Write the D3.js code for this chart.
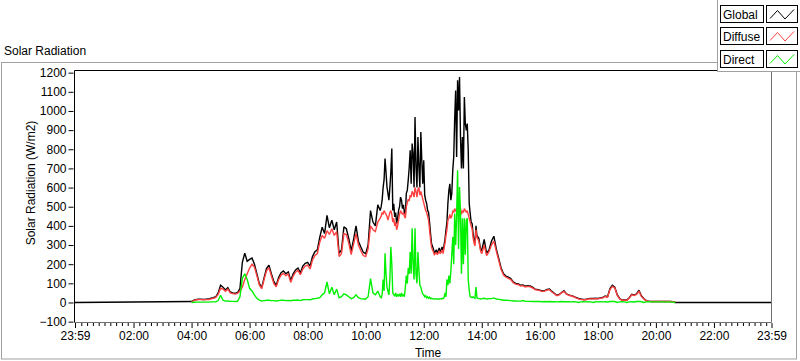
<!DOCTYPE html>
<html><head><meta charset="utf-8">
<script src="https://cdn.jsdelivr.net/npm/d3@7"></script>
<style>
html,body{margin:0;padding:0;background:#fff;overflow:hidden;}
svg text{font-family:"Liberation Sans",Arial,sans-serif;font-size:12px;fill:#000;}
</style></head><body>
<svg id="c" width="800" height="361"></svg>
<script>
// ---------- DATA ----------
const chartTitle = "Solar Radiation";
const yTitle = "Solar Radiation (W/m2)";
const xTitle = "Time";
const seriesNames = ["Global", "Diffuse", "Direct"];
const seriesColors = ["#000000", "#ff4040", "#00f000"];

// sample times: [start, end, step in minutes]
const timeSegments = [["04:00", "10:25", 5], ["10:30", "13:58", 2], ["14:00", "20:40", 5]];
const nightValue = 0;

const globalValues = [
  // 04:00-10:25 (5 min)
  5,12,16,17,17,16,17,18,22,25,30,50,
  90,80,65,78,55,50,48,52,72,210,258,215,
  225,232,200,150,100,78,130,178,195,150,110,90,
  130,155,165,150,160,115,150,170,180,155,190,205,
  210,190,240,265,275,340,393,360,455,390,430,380,
  420,257,275,395,385,335,270,330,400,320,290,262,
  255,300,480,420,400,510,
  // 10:30-13:58 (2 min)
  480,500,534,600,640,752,680,603,570,534,600,680,804,481,515,
  447,470,412,440,481,500,550,534,490,510,470,460,570,585,640,706,795,620,830,777,600,968,707,600,864,707,600,890,742,620,
  742,560,534,517,481,470,420,361,309,293,280,257,265,275,260,270,285,265,275,290,265,300,330,380,420,520,586,620,534,568,
  690,760,960,1107,760,1160,1003,1177,864,700,864,700,1073,934,899,934,794,518,465,420,413,360,325,310,400,350,342,335,300,273,
  // 14:00-20:40 (5 min)
  273,329,257,275,320,346,280,230,180,150,138,132,
  125,108,100,98,90,92,85,88,86,80,70,68,
  65,60,62,68,70,58,48,38,42,52,61,45,
  40,36,32,26,21,18,16,16,20,21,21,22,
  21,24,26,34,30,73,90,80,41,21,13,13,
  13,25,43,40,45,64,35,21,10,7,5,5,
  5,5,5,5,5,5,5,4,0
];

const diffuseValues = [
  3,10,14,15,15,14,15,16,19,22,27,42,
  75,70,58,70,50,46,44,48,60,80,120,150,
  180,200,185,140,92,72,120,165,182,140,100,82,
  120,142,152,140,148,105,138,158,168,145,175,190,
  195,175,222,245,255,315,350,335,375,355,385,350,
  370,240,255,360,355,310,250,305,360,300,270,245,
  240,280,400,380,370,420,
  440,450,470,460,480,470,460,450,430,450,470,480,460,420,440,
  400,420,380,400,430,460,480,470,460,470,450,440,500,520,540,530,560,550,580,570,550,600,580,550,590,600,560,580,560,540,
  520,500,480,470,450,430,380,330,290,275,265,250,255,262,250,258,270,255,262,275,255,285,310,350,380,430,440,460,440,450,
  480,470,490,480,470,500,480,470,490,460,480,470,490,480,470,480,460,440,420,400,385,340,310,295,380,340,330,320,290,265,
  255,300,245,265,300,320,268,220,172,143,132,126,
  120,103,96,94,86,88,81,84,82,76,67,65,
  62,57,59,65,67,55,46,36,40,50,58,43,
  38,34,30,24,19,16,14,14,18,19,19,20,
  19,22,24,31,28,68,84,76,38,19,12,12,
  12,23,40,37,42,58,32,19,9,6,5,5,
  5,5,5,5,5,5,5,4,0
];

const directValues = [
  0,1,2,2,2,2,2,2,3,3,3,10,
  38,12,7,8,6,6,5,6,30,125,150,120,
  74,60,40,22,12,8,10,12,12,10,10,8,
  10,12,12,10,11,9,12,12,13,10,14,15,
  15,14,18,20,22,25,40,50,107,45,80,40,
  70,25,30,45,40,30,20,25,40,25,20,18,
  18,30,125,50,40,60,
  30,25,40,120,60,257,150,80,60,40,120,290,200,50,40,
  35,50,30,40,35,45,30,50,35,40,30,80,140,100,180,150,264,150,387,200,120,387,150,100,264,170,90,80,60,45,
  40,30,35,25,30,22,28,20,22,20,18,20,18,20,17,19,18,20,18,22,20,25,50,30,120,90,140,100,160,250,
  342,200,465,300,450,690,280,603,460,150,440,200,440,250,430,440,120,64,30,28,25,30,25,22,81,25,22,20,20,18,
  20,22,18,20,20,24,18,16,14,12,12,11,
  10,8,8,7,7,10,6,6,6,5,5,5,
  5,4,5,4,5,4,4,3,4,5,4,4,
  4,3,4,3,0,3,4,3,4,3,0,4,
  3,4,3,4,3,5,6,5,0,3,4,3,
  0,3,4,3,5,6,4,0,3,4,3,3,
  3,3,3,3,2,3,3,2,0
];

const yTicks = [-100,0,100,200,300,400,500,600,700,800,900,1000,1100,1200];
const xTickMinutes = [-1,120,240,360,480,600,720,840,960,1080,1200,1320,1439];
const xTickLabels = ["23:59","02:00","04:00","06:00","08:00","10:00","12:00","14:00","16:00","18:00","20:00","22:00","23:59"];
const xMinorStep = 12;

// ---------- BUILD ----------
function parseHM(s){ const p = s.split(":").map(Number); return p[0]*60 + p[1]; }
const times = [];
timeSegments.forEach(([a,b,st]) => { for (let t = parseHM(a); t <= parseHM(b); t += st) times.push(t); });

const svg = d3.select("#c");
const plot = {l: 74.5, r: 771.5, t: 70.5, b: 322.5};
const x = d3.scaleLinear().domain([xTickMinutes[0], xTickMinutes[xTickMinutes.length-1]]).range([75, 771.5]);
const y = d3.scaleLinear().domain([-100, 1200]).range([321.65, 72.65]);

// panel
svg.append("rect").attr("x",1.5).attr("y",62.5).attr("width",795).attr("height",296.5)
  .attr("fill","#fff").attr("stroke","#a0a0a0");
svg.append("text").attr("x",4).attr("y",55).text(chartTitle);

// plot background
svg.append("rect").attr("x",plot.l).attr("y",plot.t).attr("width",plot.r-plot.l).attr("height",plot.b-plot.t).attr("fill","#fff");

// clip
svg.append("defs").append("clipPath").attr("id","clip").append("rect")
  .attr("x",plot.l+0.5).attr("y",plot.t+0.5).attr("width",plot.r-plot.l-1).attr("height",plot.b-plot.t-1);

const line = d3.line().x(d => x(d.t)).y(d => y(d.v));
const seriesValues = [globalValues, diffuseValues, directValues];
const g = svg.append("g").attr("clip-path","url(#clip)");
seriesValues.forEach((vals, i) => {
  let pts = times.map((t, k) => ({t: t, v: vals[k]}));
  if (i === 0) pts = [{t: x.domain()[0], v: nightValue}, ...pts, {t: x.domain()[1], v: nightValue}];
  g.append("path").datum(pts).attr("d", line).attr("fill","none")
    .attr("stroke", seriesColors[i]).attr("stroke-width",1.4).attr("stroke-linejoin","miter").attr("stroke-miterlimit",2);
});

// frame
svg.append("line").attr("x1",plot.l).attr("x2",plot.r).attr("y1",plot.t).attr("y2",plot.t).attr("stroke","#000");
svg.append("line").attr("x1",plot.l).attr("x2",plot.l).attr("y1",plot.t).attr("y2",plot.b).attr("stroke","#000");
svg.append("line").attr("x1",plot.l).attr("x2",plot.r).attr("y1",plot.b).attr("y2",plot.b).attr("stroke","#707070");
svg.append("line").attr("x1",plot.r).attr("x2",plot.r).attr("y1",plot.t).attr("y2",plot.b).attr("stroke","#707070");

// y axis
const ya = svg.append("g").attr("transform","translate(73.5,0)")
  .call(d3.axisLeft(y).tickValues(yTicks).tickSize(5).tickPadding(2).tickFormat(d3.format("d")));
ya.select(".domain").remove();
ya.selectAll("text").style("font-family","Liberation Sans, Arial, sans-serif").style("font-size","12px").attr("fill","#000");
ya.selectAll("line").attr("stroke","#000");

// x axis major
const xa = svg.append("g").attr("transform","translate(0,323)")
  .call(d3.axisBottom(x).tickValues(xTickMinutes).tickSize(5).tickPadding(3).tickFormat((d,i) => xTickLabels[i]));
xa.select(".domain").remove();
xa.selectAll("text").style("font-family","Liberation Sans, Arial, sans-serif").style("font-size","12px").attr("fill","#000");
xa.selectAll("line").attr("stroke","#000");
// x axis minor
const minor = d3.range(xMinorStep, 1440, xMinorStep).filter(m => m % 120 !== 0);
const xm = svg.append("g").attr("transform","translate(0,323)")
  .call(d3.axisBottom(x).tickValues(minor).tickSize(3).tickFormat(""));
xm.select(".domain").remove();
xm.selectAll("line").attr("stroke","#000");

// axis titles
svg.append("text").attr("transform","translate(35,183) rotate(-90)").attr("text-anchor","middle").text(yTitle);
svg.append("text").attr("x",428).attr("y",357).attr("text-anchor","middle").text(xTitle);

// legend
const lg = svg.append("g");
lg.append("rect").attr("x",717.5).attr("y",-1).attr("width",90).attr("height",72.5).attr("fill","#fff").attr("stroke","#a0a0a0");
seriesNames.forEach((name, i) => {
  const y0 = 4.5 + i * 22.7;
  const yy = Math.round(y0) + 0.5;
  lg.append("rect").attr("x",720.5).attr("y",yy).attr("width",43).attr("height",17).attr("fill","#fff").attr("stroke","#000");
  lg.append("text").attr("x",723).attr("y",yy + 13).text(name);
  lg.append("rect").attr("x",766.5).attr("y",yy).attr("width",31).attr("height",17).attr("fill","#fff").attr("stroke","#000");
  lg.append("path").attr("d", `M${770},${yy+13} L${777.5},${yy+5} L${785},${yy+13.5} L${794},${yy+4}`)
    .attr("fill","none").attr("stroke", seriesColors[i]).attr("stroke-width",1);
});
</script>
</body></html>
